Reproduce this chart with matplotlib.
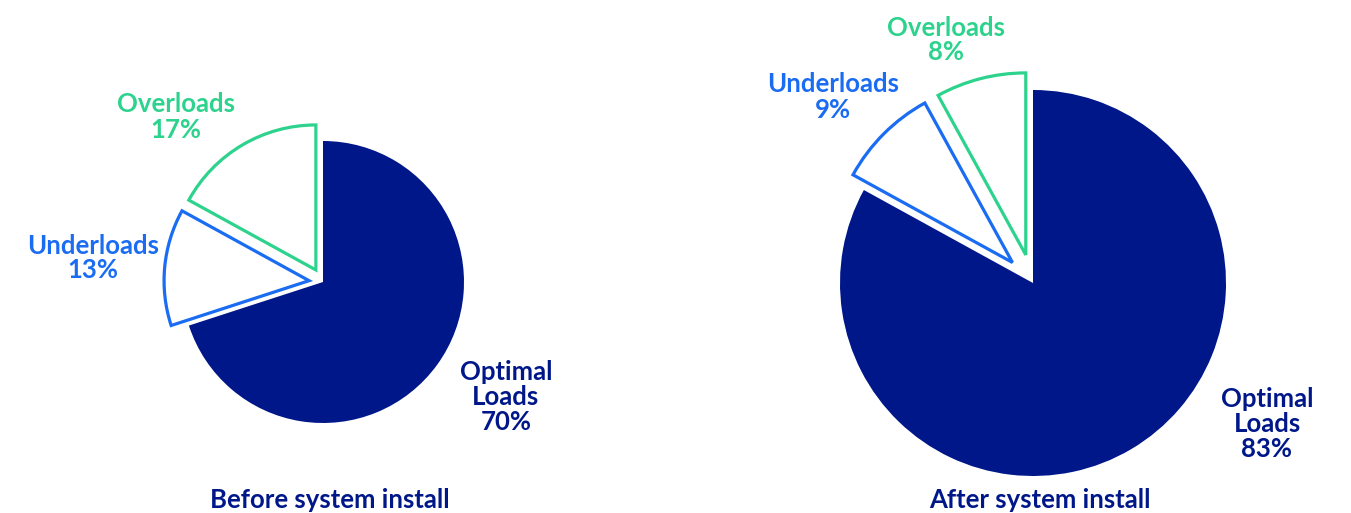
import matplotlib
matplotlib.use('Agg')
import matplotlib.pyplot as plt

# data
names = ['Optimal\nLoads', 'Underloads', 'Overloads']
before = [70, 13, 17]
after = [83, 9, 8]
titles = ['Before system install', 'After system install']

navy = '#00178A'
blue = '#1A6CF2'
green = '#2DD38D'
cols = [navy, blue, green]

plt.rcParams['font.family'] = ['Lato', 'DejaVu Sans']

fig = plt.figure(figsize=(13.51, 5.13), dpi=100)
ax = fig.add_axes([0, 0, 1, 1])
ax.set_xlim(0, 1351)
ax.set_ylim(0, 513)
ax.axis('off')


def draw_pie(vals, cx, cy, r, r_out, expl, label_pos, title_pos, title):
    wedges, _ = ax.pie(vals, center=(cx, cy), radius=r, startangle=90,
                       counterclock=False, explode=[0, expl, expl],
                       frame=True)
    for w, c in zip(wedges, cols):
        if c == navy:
            w.set_facecolor(navy)
            w.set_edgecolor('none')
        else:
            w.set_radius(r_out)
            w.set_facecolor('white')
            w.set_edgecolor(c)
            w.set_linewidth(2.3)
            w.set_joinstyle('miter')
    for nm, v, c, (lx, ly) in zip(names, vals, cols, label_pos):
        ax.text(lx, ly, '%s\n%d%%' % (nm, v), color=c, ha='center', va='center',
                fontsize=18.5, fontweight='bold', linespacing=1.05)
    ax.text(title_pos[0], title_pos[1], title, color=navy, ha='center',
            va='center', fontsize=18.5, fontweight='bold')


draw_pie(before, 323, 513 - 282, 141, 145, 14,
         [(506, 513 - 397), (93, 513 - 258), (176, 513 - 117)],
         (330, 513 - 500), titles[0])
draw_pie(after, 1033, 513 - 283, 193, 182, 29,
         [(1267, 513 - 424), (833, 513 - 97), (946, 513 - 40)],
         (1040, 513 - 500), titles[1])

ax.set_xlim(0, 1351)
ax.set_ylim(0, 513)
ax.axis('off')

fig.savefig('out.png', dpi=100)
